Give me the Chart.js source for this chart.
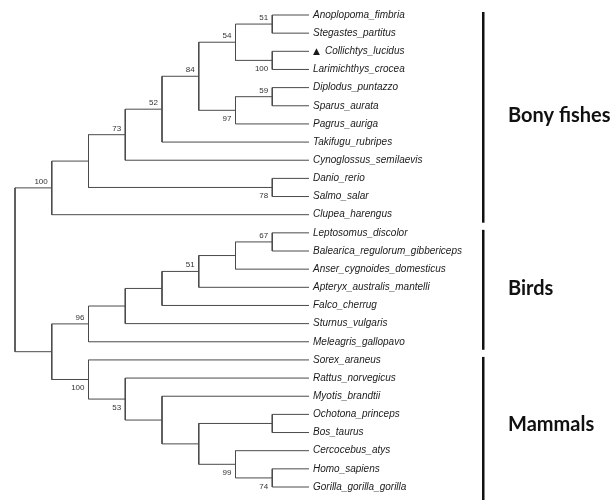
<!DOCTYPE html>
<html>
<head>
<meta charset="utf-8">
<script src="https://cdn.jsdelivr.net/npm/chart.js@4.4.1/dist/chart.umd.min.js"></script>
<style>
  html, body { margin: 0; padding: 0; background: #fff; }
  #wrap { width: 613px; height: 500px; position: relative; }
</style>
</head>
<body>
<div id="wrap"><canvas id="tree"></canvas></div>
<script>
const leaves = [
  'Anoplopoma_fimbria', 'Stegastes_partitus', 'Collichtys_lucidus', 'Larimichthys_crocea',
  'Diplodus_puntazzo', 'Sparus_aurata', 'Pagrus_auriga', 'Takifugu_rubripes',
  'Cynoglossus_semilaevis', 'Danio_rerio', 'Salmo_salar', 'Clupea_harengus',
  'Leptosomus_discolor', 'Balearica_regulorum_gibbericeps', 'Anser_cygnoides_domesticus',
  'Apteryx_australis_mantelli', 'Falco_cherrug', 'Sturnus_vulgaris', 'Meleagris_gallopavo',
  'Sorex_araneus', 'Rattus_norvegicus', 'Myotis_brandtii', 'Ochotona_princeps',
  'Bos_taurus', 'Cercocebus_atys', 'Homo_sapiens', 'Gorilla_gorilla_gorilla'
];
const markedLeaf = 2; // the study species, drawn with a triangle

// inner nodes, children are leaf numbers or earlier nodes ('c' + index)
const cladeKids = [
  [0, 1], [2, 3], ['c0', 'c1'], [4, 5], ['c3', 6], ['c2', 'c4'],
  ['c5', 7], ['c6', 8], [9, 10], ['c7', 'c8'], ['c9', 11],
  [12, 13], ['c11', 14], ['c12', 15], ['c13', 16], ['c14', 17], ['c15', 18],
  [25, 26], [24, 'c17'], [22, 23], ['c19', 'c18'], [21, 'c20'], [20, 'c21'], [19, 'c22'],
  ['c16', 'c23'], ['c10', 'c24']
];
const cladeSupport = [
  51, 100, 54, 59, 97, 84, 52, 73, 78, null, 100,
  67, null, 51, null, null, 96,
  74, 99, null, null, null, 53, 100,
  null, null
];

const groups = ['Bony fishes', 'Birds', 'Mammals'];
const groupFirstLeaf = [0, 12, 19];
const groupLastLeaf = [11, 18, 26];

// cladogram layout: rows for leaves, columns by height above the tips
const tips = leaves.map((name, i) => ({ y: i, h: 0 }));
const clades = [];
const nodeOf = k => (typeof k === 'number' ? tips[k] : clades[+k.slice(1)]);
cladeKids.forEach((kids, i) => {
  const [a, b] = kids.map(nodeOf);
  clades.push({ a, b, h: Math.max(a.h, b.h) + 1, y: (a.y + b.y) / 2, support: cladeSupport[i] });
});
const depth = clades[clades.length - 1].h;
tips.forEach(t => { t.x = depth; });
clades.forEach(c => {
  c.x = depth - c.h;
  c.a.side = c.a.y < c.b.y ? 'above' : 'below';
  c.b.side = c.a.y < c.b.y ? 'below' : 'above';
});

const edgePts = [];
clades.forEach(c => {
  edgePts.push(
    { x: c.a.x, y: c.a.y }, { x: c.x, y: c.a.y },
    { x: c.x, y: c.b.y }, { x: c.b.x, y: c.b.y },
    { x: NaN, y: NaN }
  );
});

const treeLabels = {
  id: 'treeLabels',
  afterDatasetsDraw(chart) {
    const { ctx, scales: { x, y } } = chart;
    const tipX = x.getPixelForValue(depth);
    ctx.save();

    // leaf names
    ctx.textAlign = 'left';
    ctx.textBaseline = 'middle';
    ctx.fillStyle = '#1a1a1a';
    leaves.forEach((name, i) => {
      const py = y.getPixelForValue(i);
      let px = tipX + 4;
      if (i === markedLeaf) {
        ctx.font = '9px "DejaVu Sans", sans-serif';
        ctx.fillText('\u25B2', px, py);
        px += 12;
      }
      ctx.font = 'italic 10px "Liberation Sans", Arial, sans-serif';
      ctx.fillText(name, px, py);
    });

    // bootstrap values
    ctx.font = '8px "Liberation Sans", Arial, sans-serif';
    ctx.fillStyle = '#333';
    ctx.textAlign = 'right';
    ctx.textBaseline = 'alphabetic';
    clades.forEach(c => {
      if (c.support == null) return;
      const px = x.getPixelForValue(c.x) - 4;
      const py = y.getPixelForValue(c.y);
      ctx.fillText(String(c.support), px, c.side === 'above' ? py - 4 : py + 11);
    });

    // group brackets
    groups.forEach((g, i) => {
      const y0 = y.getPixelForValue(groupFirstLeaf[i]);
      const y1 = y.getPixelForValue(groupLastLeaf[i]);
      const bot = i === groups.length - 1 ? chart.height : y1 + 8;
      ctx.fillStyle = '#111';
      ctx.fillRect(tipX + 173, y0 - 3, 2.5, bot - (y0 - 3));
      ctx.font = 'bold 20px Lato, "Open Sans", sans-serif';
      ctx.textAlign = 'left';
      ctx.textBaseline = 'middle';
      ctx.fillText(g, tipX + 199, (y0 + y1) / 2 + 1);
    });
    ctx.restore();
  }
};

new Chart(document.getElementById('tree'), {
  type: 'scatter',
  data: {
    datasets: [{
      data: edgePts,
      showLine: true,
      spanGaps: false,
      borderColor: '#4a4a4a',
      borderWidth: 1,
      pointRadius: 0,
      pointHoverRadius: 0,
      tension: 0,
      clip: false
    }]
  },
  options: {
    responsive: true,
    maintainAspectRatio: false,
    animation: false,
    events: [],
    layout: { padding: { left: 15, right: 304, top: 15, bottom: 13 } },
    scales: {
      x: { type: 'linear', min: 0, max: depth, display: false },
      y: { type: 'linear', min: 0, max: leaves.length - 1, reverse: true, display: false }
    },
    plugins: { legend: { display: false }, tooltip: { enabled: false } }
  },
  plugins: [treeLabels]
});
</script>
</body>
</html>
